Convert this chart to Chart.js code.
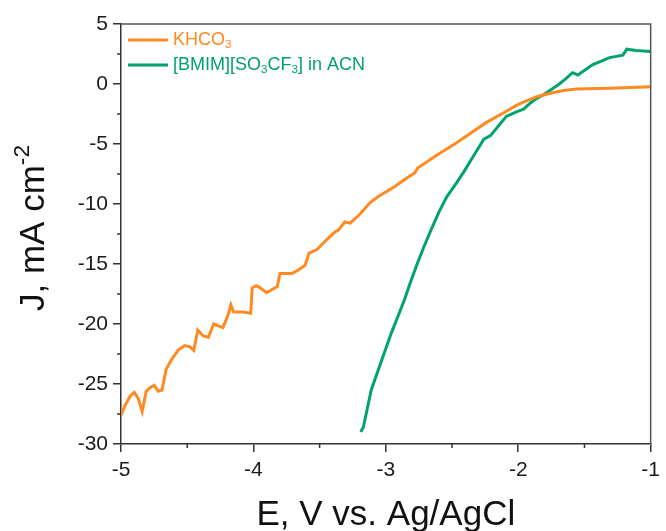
<!DOCTYPE html>
<html>
  <head>
    <title>J vs E</title>
    <script src="https://cdn.jsdelivr.net/npm/chart.js@4.4.1/dist/chart.umd.min.js"></script>
    <style>
      html, body { margin: 0; padding: 0; background: #fff; }
      #container { width: 666px; height: 531px; }
    </style>
  </head>

  <body>
    <div id="container">
      <canvas id="canvas"></canvas>
    </div>
    <script>
      // KHCO3 trace (potential in V, current density in mA cm-2)
      const khco3E = [
        -5.00, -4.97, -4.93, -4.90, -4.87, -4.84, -4.81, -4.78, -4.75, -4.72,
        -4.69, -4.66, -4.62, -4.57, -4.52, -4.48, -4.45, -4.42, -4.38, -4.34,
        -4.30, -4.23, -4.19, -4.17, -4.15, -4.08, -4.02, -4.01, -3.98, -3.96,
        -3.90, -3.84, -3.82, -3.80, -3.71, -3.66, -3.61, -3.58, -3.52, -3.44,
        -3.38, -3.36, -3.31, -3.27, -3.20, -3.12, -3.06, -2.94, -2.85, -2.78,
        -2.76, -2.61, -2.48, -2.36, -2.24, -2.11, -2.00, -1.86, -1.75, -1.66,
        -1.56, -1.31, -1.00
      ];
      const khco3J = [
        -27.6, -26.8, -26.0, -25.7, -26.2, -27.3, -25.6, -25.3, -25.1, -25.6,
        -25.5, -23.8, -23.0, -22.2, -21.8, -21.9, -22.2, -20.5, -21.0, -21.1,
        -20.0, -20.3, -19.2, -18.4, -19.0, -19.0, -19.1, -17.0, -16.8, -16.9,
        -17.4, -17.0, -16.9, -15.8, -15.8, -15.5, -15.1, -14.1, -13.8, -12.9,
        -12.3, -12.2, -11.5, -11.6, -10.9, -9.9, -9.4, -8.6, -7.9, -7.4,
        -7.0, -5.9, -5.0, -4.1, -3.2, -2.4, -1.7, -1.06, -0.75, -0.55,
        -0.42, -0.36, -0.22
      ];

      // [BMIM][SO3CF3] in ACN trace
      const bmimE = [
        -3.19, -3.17, -3.11, -3.04, -2.96, -2.91, -2.86, -2.81, -2.76, -2.71,
        -2.66, -2.60, -2.54, -2.47, -2.41, -2.36, -2.31, -2.26, -2.21, -2.15,
        -2.09, -2.01, -1.96, -1.91, -1.86, -1.81, -1.75, -1.69, -1.64, -1.59,
        -1.55, -1.44, -1.31, -1.21, -1.18, -1.11, -1.00
      ];
      const bmimJ = [
        -29.0, -28.6, -25.5, -23.3, -20.8, -19.4, -18.0, -16.4, -14.9, -13.5,
        -12.2, -10.7, -9.4, -8.3, -7.3, -6.4, -5.5, -4.6, -4.3, -3.5,
        -2.7, -2.3, -2.1, -1.6, -1.2, -0.9, -0.45, 0.0, 0.45, 0.94,
        0.75, 1.6, 2.2, 2.4, 2.9, 2.8, 2.7
      ];

      const xTicks = [-5, -4, -3, -2, -1];
      const yTicks = [5, 0, -5, -10, -15, -20, -25, -30];

      const orange = '#ff8a22';
      const green = '#00a36c';
      const FONT = '"Liberation Sans", Arial, sans-serif';

      const toPoints = (xs, ys) => xs.map((x, i) => ({ x: x, y: ys[i] }));

      // pieces of text with subscript / superscript parts
      const legendItems = [
        { color: orange, parts: [['KHCO', 0], ['3', -1]] },
        { color: green, parts: [['[BMIM][SO', 0], ['3', -1], ['CF', 0], ['3', -1], ['] in ACN', 0]] },
      ];

      function drawRich(ctx, parts, x, y, size) {
        for (const [txt, shift] of parts) {
          const s = shift ? size * 0.65 : size;
          ctx.font = s + 'px ' + FONT;
          const dy = shift < 0 ? size * 0.25 : shift > 0 ? -size * 0.42 : 0;
          ctx.fillText(txt, x, y + dy);
          x += ctx.measureText(txt).width;
        }
        return x;
      }
      function richWidth(ctx, parts, size) {
        let w = 0;
        for (const [txt, shift] of parts) {
          ctx.font = (shift ? size * 0.65 : size) + 'px ' + FONT;
          w += ctx.measureText(txt).width;
        }
        return w;
      }

      const decor = {
        id: 'decor',
        afterDraw(chart) {
          const ctx = chart.ctx;
          const a = chart.chartArea;
          const xs = chart.scales.x, ys = chart.scales.y;
          ctx.save();

          // frame on top and right
          ctx.strokeStyle = '#555';
          ctx.lineWidth = 1.5;
          ctx.beginPath();
          ctx.moveTo(a.left, a.top);
          ctx.lineTo(a.right, a.top);
          ctx.lineTo(a.right, a.bottom);
          ctx.stroke();

          // minor ticks
          ctx.strokeStyle = '#333';
          ctx.lineWidth = 1.5;
          ctx.beginPath();
          for (let v = -4.5; v < -1; v += 1) {
            const px = xs.getPixelForValue(v);
            ctx.moveTo(px, a.bottom);
            ctx.lineTo(px, a.bottom + 4);
          }
          for (let v = 2.5; v > -30; v -= 5) {
            const py = ys.getPixelForValue(v);
            ctx.moveTo(a.left, py);
            ctx.lineTo(a.left - 4, py);
          }
          ctx.stroke();

          // legend
          ctx.textBaseline = 'middle';
          ctx.textAlign = 'left';
          legendItems.forEach((item, i) => {
            const y = a.top + 16 + i * 25;
            ctx.strokeStyle = item.color;
            ctx.lineWidth = 3;
            ctx.beginPath();
            ctx.moveTo(a.left + 7, y);
            ctx.lineTo(a.left + 47, y);
            ctx.stroke();
            ctx.fillStyle = item.color;
            drawRich(ctx, item.parts, a.left + 52, y, 18);
          });

          // axis titles
          ctx.fillStyle = '#111';
          ctx.textBaseline = 'alphabetic';
          ctx.font = '35px ' + FONT;
          ctx.textAlign = 'center';
          ctx.fillText('E, V vs. Ag/AgCl', (a.left + a.right) / 2, 525);

          const yParts = [['J, mA cm', 0], ['-2', 1]];
          const w = richWidth(ctx, yParts, 35);
          ctx.translate(44, (a.top + a.bottom) / 2 - 6);
          ctx.rotate(-Math.PI / 2);
          ctx.textAlign = 'left';
          drawRich(ctx, yParts, -w / 2, 0, 35);
          ctx.restore();
        },
      };

      const axisCommon = {
        type: 'linear',
        grid: { drawOnChartArea: false, drawTicks: true, tickLength: 8, color: '#333', lineWidth: 1.5 },
        border: { display: true, color: '#333', width: 1.5 },
        ticks: { color: '#1a1a1a', font: { family: FONT, size: 21 } },
      };

      window.onload = () => {
        const ctx = document.getElementById('canvas').getContext('2d');
        window.myChart = new Chart(ctx, {
          type: 'line',
          data: {
            datasets: [
              {
                label: 'KHCO3',
                data: toPoints(khco3E, khco3J),
                borderColor: orange,
                borderWidth: 3,
                pointRadius: 0,
                tension: 0,
              },
              {
                label: '[BMIM][SO3CF3] in ACN',
                data: toPoints(bmimE, bmimJ),
                borderColor: green,
                borderWidth: 3,
                pointRadius: 0,
                tension: 0,
              },
            ],
          },
          options: {
            responsive: true,
            maintainAspectRatio: false,
            animation: false,
            layout: { padding: { top: 24, right: 11, left: 0, bottom: 0 } },
            plugins: { legend: { display: false }, tooltip: { enabled: false } },
            scales: {
              x: {
                ...axisCommon,
                min: -5,
                max: -1,
                afterFit: (s) => { s.height = 87; },
                afterBuildTicks: (s) => { s.ticks = xTicks.map((v) => ({ value: v })); },
                ticks: { ...axisCommon.ticks, padding: 6 },
              },
              y: {
                ...axisCommon,
                min: -30,
                max: 5,
                afterFit: (s) => { s.width = 121; },
                afterBuildTicks: (s) => { s.ticks = yTicks.map((v) => ({ value: v })); },
                ticks: { ...axisCommon.ticks, padding: 5 },
              },
            },
          },
          plugins: [decor],
        });
      };
    </script>
  </body>
</html>
